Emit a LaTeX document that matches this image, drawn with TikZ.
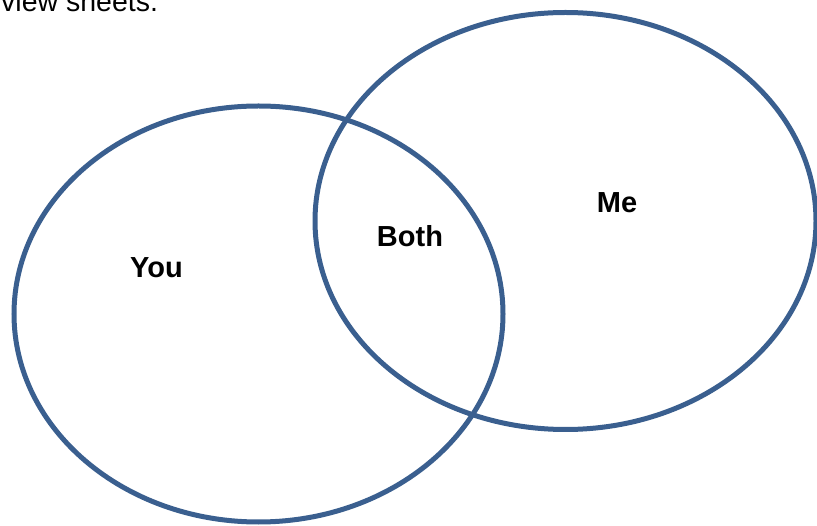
\documentclass[tikz,border=0pt]{standalone}
\usepackage{fontspec}
\setmainfont{Liberation Sans}
\usepackage{xcolor}
\usetikzlibrary{shapes.geometric, positioning}
\definecolor{vennblue}{RGB}{58, 95, 143}

\begin{document}
\begin{tikzpicture}[
    x=1pt, y=-1pt,
    set/.style={ellipse, draw=vennblue, line width=5pt, inner sep=0pt,
                minimum width=#1},
    setlabel/.style={anchor=base, inner sep=0pt, font=\fontsize{29}{32}\selectfont\bfseries}
]
    \useasboundingbox (0,0) rectangle (817,526);

    % cut-off line of text above
    \node[anchor=base west, inner sep=0pt, font=\fontsize{28.5}{32}\selectfont] (caption) at (1,12) {view sheets.};

    % the two sets
    \node[set=489pt, minimum height=416pt] (you) at (258.5,314) {};
    \node[set=501pt, minimum height=417pt] (me) at (565.5,221) {};

    % labels
    \node[setlabel] (youlabel) at (156.5,278) {You};
    \node[setlabel] (bothlabel) at (410,247) {Both};
    \node[setlabel] (melabel) at (617,213) {Me};
\end{tikzpicture}
\end{document}
